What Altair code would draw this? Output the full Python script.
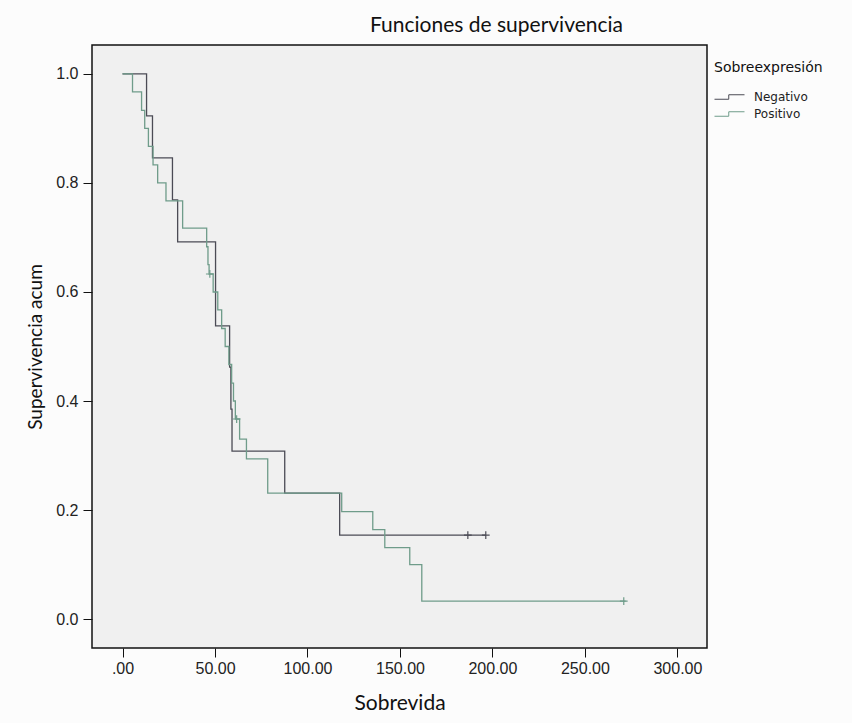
import altair as alt
import pandas as pd

# ---- data (Kaplan-Meier step functions) ----
groups = ["Negativo", "Positivo"]
colors = ["#4b4b55", "#6f9c8a"]

neg_time = [0, 13.0, 16.2, 27.0, 29.8, 50.3, 57.9, 58.6, 59.2, 87.7, 117.4, 196.4]
neg_surv = [1.0, 0.923, 0.846, 0.769, 0.692, 0.538, 0.462, 0.385, 0.308, 0.231, 0.154, 0.154]

pos_time = [0, 5.4, 10.3, 12.0, 14.0, 16.5, 19.0, 23.5, 32.5, 45.5, 46.2, 46.8, 49.0,
            51.5, 53.6, 55.5, 57.5, 59.0, 60.0, 61.0, 63.3, 67.0, 78.5, 118.5, 135.3,
            141.8, 155.3, 161.8, 272.0]
pos_surv = [1.0, 0.967, 0.933, 0.9, 0.867, 0.833, 0.8, 0.767, 0.717, 0.683, 0.65, 0.633,
            0.6, 0.567, 0.533, 0.5, 0.467, 0.433, 0.4, 0.367, 0.33, 0.294, 0.231, 0.197,
            0.164, 0.131, 0.1, 0.033, 0.033]

neg_cens_time = [186.7, 196.4]
neg_cens_surv = [0.154, 0.154]
pos_cens_time = [47.2, 61.7, 271.0]
pos_cens_surv = [0.633, 0.367, 0.033]

x_ticks = [0, 50, 100, 150, 200, 250, 300]
y_ticks = [0.0, 0.2, 0.4, 0.6, 0.8, 1.0]

lines = pd.DataFrame({
    "t": neg_time + pos_time,
    "s": neg_surv + pos_surv,
    "grupo": ["Negativo"] * len(neg_time) + ["Positivo"] * len(pos_time),
    "o": list(range(len(neg_time))) + list(range(len(pos_time))),
})
cens = pd.DataFrame({
    "t": neg_cens_time + pos_cens_time,
    "s": neg_cens_surv + pos_cens_surv,
    "grupo": ["Negativo"] * len(neg_cens_time) + ["Positivo"] * len(pos_cens_time),
})

label_font = "Liberation Sans"
deco_font = "Lato"

x_enc = alt.X(
    "t:Q",
    scale=alt.Scale(domain=[-16.5, 316], nice=False, zero=False),
    axis=alt.Axis(
        values=x_ticks,
        labelExpr="datum.value == 0 ? '.00' : format(datum.value, '.2f')",
        title="Sobrevida",
        titleFont=deco_font, titleFontSize=21, titleFontWeight="normal", titleColor="#111",
        titlePadding=16,
        labelFont=label_font, labelFontSize=16, labelColor="#222", labelPadding=3,
        tickSize=9, tickColor="#111", domain=False, grid=False,
    ),
)
y_enc = alt.Y(
    "s:Q",
    scale=alt.Scale(domain=[-0.053, 1.053], nice=False, zero=False),
    axis=alt.Axis(
        values=y_ticks, format=".1f",
        title="Supervivencia acum",
        titleFont=deco_font, titleFontSize=19, titleFontWeight="normal", titleColor="#111",
        titlePadding=10,
        labelFont=label_font, labelFontSize=16, labelColor="#222", labelPadding=5,
        tickSize=9, tickColor="#111", domain=False, grid=False,
    ),
)

color_enc = alt.Color(
    "grupo:N",
    scale=alt.Scale(domain=groups, range=colors),
    legend=alt.Legend(
        title="Sobreexpresión", orient="none", legendX=622, legendY=16,
        symbolType="M-1,0.3L0.9,0.3L0.9,-0.3L3,-0.3",
        symbolSize=225, symbolStrokeWidth=1, symbolFillColor="transparent",
        titleFont="DejaVu Sans", titleFontSize=14, titleFontWeight="normal", titleColor="#111",
        labelFont="DejaVu Sans", labelFontSize=12, labelColor="#222",
        titlePadding=14, rowPadding=3, labelOffset=24,
    ),
)

line_layer = alt.Chart(lines).mark_line(interpolate="step-after", strokeWidth=1.3).encode(
    x=x_enc, y=y_enc, color=color_enc, order="o:Q"
)
cens_layer = alt.Chart(cens).mark_point(
    shape="M-1,0L1,0M0,-1L0,1", size=60, filled=False, strokeWidth=1.2, opacity=1
).encode(
    x="t:Q", y="s:Q",
    color=alt.Color("grupo:N", scale=alt.Scale(domain=groups, range=colors), legend=None),
)

chart = (
    alt.layer(line_layer, cens_layer)
    .properties(
        width=615, height=603,
        autosize=alt.AutoSizeParams(type="none"),
        padding={"left": 92, "top": 45, "right": 145, "bottom": 75},
        background="#fcfcfc",
        title=alt.TitleParams(
            "Funciones de supervivencia", font=deco_font, fontSize=21, fontWeight="normal",
            color="#111", anchor="middle", dx=97, offset=9,
        ),
    )
    .configure_view(fill="#f0f0f0", stroke="#111", strokeWidth=1.5)
)

chart.save("out.html", embed_options={"renderer": "svg", "actions": False})
